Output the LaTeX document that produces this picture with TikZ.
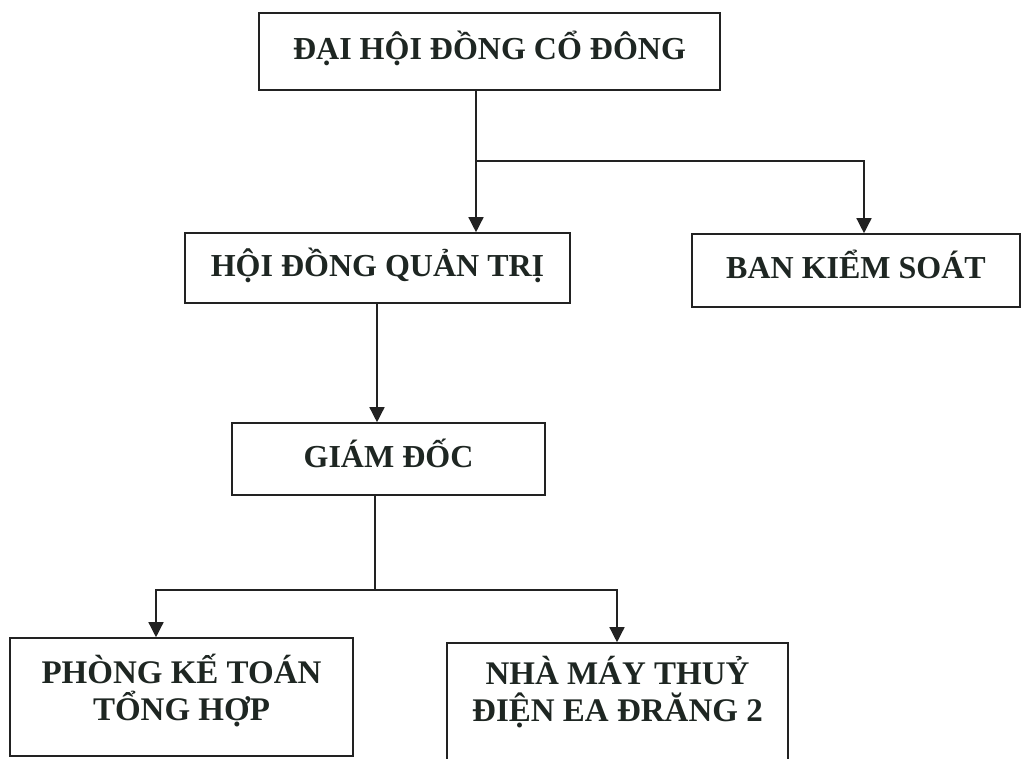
\documentclass[tikz,border=0pt]{standalone}
\usepackage{fontspec}
\setmainfont{Liberation Serif}
\usetikzlibrary{arrows.meta}
\definecolor{inkText}{HTML}{1E2622}
\definecolor{inkLine}{HTML}{222222}

\begin{document}
\begin{tikzpicture}[
            x=1pt, y=-1pt,
            Box/.style={draw=inkLine, line width=1.6pt, inner sep=0pt, align=center,
                text=inkText, font=\bfseries\fontsize{32}{36}\selectfont,
                text height=24pt, text depth=8pt},
            TallBox/.style={Box, font=\bfseries\fontsize{33}{37}\selectfont,
                text height=60pt},
            Arrow/.style={draw=inkLine, line width=1.4pt, -{Triangle[width=15pt, length=15pt]}},
            Link/.style={draw=inkLine, line width=1.4pt}
        ]
            \useasboundingbox (0, 0) rectangle (1024, 758);

            \node[Box, minimum width=461pt, minimum height=77pt] (dhdcd) at (489.5, 51.5) {ĐẠI HỘI ĐỒNG CỔ ĐÔNG};
            \node[Box, minimum width=385pt, minimum height=70pt] (hdqt) at (377.5, 268) {HỘI ĐỒNG QUẢN TRỊ};
            \node[Box, minimum width=328pt, minimum height=73pt] (bks) at (856, 270.5) {BAN KIỂM SOÁT};
            \node[Box, minimum width=313pt, minimum height=72pt] (gd) at (388.5, 459) {GIÁM ĐỐC};
            \node[TallBox, text depth=14pt, minimum width=343pt, minimum height=118pt] (pkt) at (181.5, 697) {PHÒNG KẾ TOÁN\\TỔNG HỢP};
            \node[TallBox, text depth=21pt, minimum width=341pt, minimum height=118pt] (nm) at (617.5, 702) {NHÀ MÁY THUỶ\\ĐIỆN EA ĐRĂNG 2};

            \coordinate (topFork) at (476, 161);
            \coordinate (topRight) at (864, 161);
            \coordinate (midLine) at (377, 380);
            \coordinate (lowFork) at (375, 590);
            \coordinate (lowLeft) at (156, 590);
            \coordinate (lowRight) at (617, 590);

            \draw[Link] (dhdcd.south -| topFork) -- (topFork);
            \draw[Arrow] (topFork) -- (hdqt.north -| topFork);
            \draw[Arrow] (topFork) -| (bks.north -| topRight);

            \draw[Arrow] (hdqt.south -| midLine) -- (gd.north -| midLine);

            \draw[Link] (gd.south -| lowFork) -- (lowFork);
            \draw[Arrow] (lowFork) -| (pkt.north -| lowLeft);
            \draw[Arrow] (lowFork) -| (nm.north -| lowRight);
        \end{tikzpicture}
\end{document}
